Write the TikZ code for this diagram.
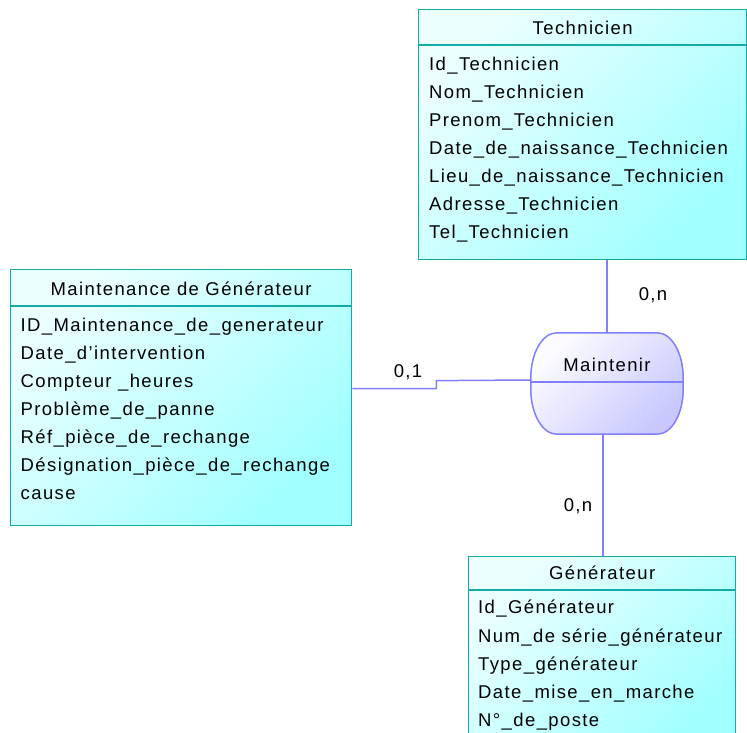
\documentclass[tikz,border=0pt]{standalone}
\usepackage{fontspec}
\setmainfont{Liberation Sans}[LetterSpace=7.5]
\usetikzlibrary{calc}
\definecolor{entline}{RGB}{20,170,170}
\definecolor{entlight}{RGB}{236,255,255}
\definecolor{entdark}{RGB}{160,255,255}
\definecolor{relline}{RGB}{128,128,255}
\definecolor{rellight}{RGB}{252,252,255}
\definecolor{reldark}{RGB}{200,200,255}
\begin{document}
\begin{tikzpicture}[x=1pt,y=-1pt]
\tikzstyle{entity} = [rectangle, draw=entline, line width=1.3pt, anchor=north west, inner sep=0pt, top color=entlight, bottom color=entdark, shading angle=45]
\tikzstyle{title} = [font=\fontsize{18.5}{22}\selectfont, inner sep=0pt, anchor=base]
\tikzstyle{attr} = [font=\fontsize{18.5}{22}\selectfont, inner sep=0pt, anchor=base west]
\tikzstyle{link} = [draw=relline, line width=1.5pt]

\useasboundingbox (0,0) rectangle (747,733);
\clip (0,0) rectangle (747,733);

% Technicien
\node at (418,9) [entity, minimum width=328pt, minimum height=250pt] (tech) {};
\draw[entline, line width=1.3pt] ([yshift=-36pt]tech.north west) -- ([yshift=-36pt]tech.north east);
\node at ([yshift=-25.5pt]tech.north) [title] (techname) {Technicien};
\foreach \a [count=\i] in {Id\_Technicien, Nom\_Technicien, Prenom\_Technicien, Date\_de\_naissance\_Technicien, Lieu\_de\_naissance\_Technicien, Adresse\_Technicien, Tel\_Technicien}
  \node at ([xshift=11pt,yshift={-33.5pt-\i*28pt}]tech.north west) [attr] (tech\i) {\a};

% Maintenance de Generateur
\node at (10,269) [entity, minimum width=341pt, minimum height=256pt] (maint) {};
\draw[entline, line width=1.3pt] ([yshift=-37pt]maint.north west) -- ([yshift=-37pt]maint.north east);
\node at ([yshift=-26.5pt]maint.north) [title] (maintname) {Maintenance de Générateur};
\foreach \a [count=\i] in {ID\_Maintenance\_de\_generateur, Date\_d’intervention, Compteur \_heures, Problème\_de\_panne, Réf\_pièce\_de\_rechange, Désignation\_pièce\_de\_rechange, cause}
  \node at ([xshift=10.5pt,yshift={-34.5pt-\i*28pt}]maint.north west) [attr] (maint\i) {\a};

% Generateur
\node at (468,556) [entity, minimum width=267pt, minimum height=200pt] (gen) {};
\draw[entline, line width=1.3pt] ([yshift=-34pt]gen.north west) -- ([yshift=-34pt]gen.north east);
\node at ([yshift=-23.5pt]gen.north) [title] (genname) {Générateur};
\foreach \a [count=\i] in {Id\_Générateur, Num\_de série\_générateur, Type\_générateur, Date\_mise\_en\_marche, N°\_de\_poste}
  \node at ([xshift=10pt,yshift={-29.5pt-\i*28.25pt}]gen.north west) [attr] (gen\i) {\a};

% Maintenir
\node at (607,383.5) [minimum width=152pt, minimum height=101pt, inner sep=0pt] (maintenir) {};
\shade[draw=relline, line width=1.5pt, top color=rellight, bottom color=reldark, shading angle=45]
  ([xshift=26pt]maintenir.north west) -- ([xshift=-26pt]maintenir.north east)
  .. controls +(14.4pt,0pt) and +(0pt,24.8pt) .. ([yshift=-45pt]maintenir.north east)
  -- ([yshift=45pt]maintenir.south east)
  .. controls +(0pt,-24.8pt) and +(14.4pt,0pt) .. ([xshift=-26pt]maintenir.south east)
  -- ([xshift=26pt]maintenir.south west)
  .. controls +(-14.4pt,0pt) and +(0pt,-24.8pt) .. ([yshift=45pt]maintenir.south west)
  -- ([yshift=-45pt]maintenir.north west)
  .. controls +(0pt,24.8pt) and +(-14.4pt,0pt) .. ([xshift=26pt]maintenir.north west) -- cycle;
\draw[link] ([yshift=1.5pt]maintenir.west) -- ([yshift=1.5pt]maintenir.east);
\node at ([yshift=12pt]maintenir.center) [title] (maintenirname) {Maintenir};

\draw[link] (tech.south -| maintenir.north) -- (maintenir.north);
\draw[link] ([xshift=-4pt]maintenir.south) -- ([xshift=-4pt]maintenir.south |- gen.north);
\draw[link] ([yshift=9pt]maint.east) -- ++(84,0) -- ++(0,-8) -- ([yshift=3.5pt]maintenir.west);

\node at (653,295) [title, anchor=center] (cardtech) {0,n};
\node at (578,506) [title, anchor=center] (cardgen) {0,n};
\node at (408,372) [title, anchor=center] (cardmaint) {0,1};

\end{tikzpicture}
\end{document}
